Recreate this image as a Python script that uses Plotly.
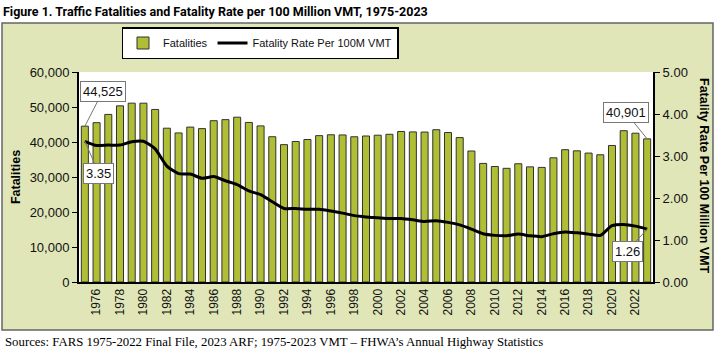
import plotly.graph_objects as go

years = list(range(1975, 2024))
fatalities = [44525, 45523, 47878, 50331, 51093, 51091, 49301, 43945, 42589, 44257,
              43825, 46087, 46390, 47087, 45582, 44599, 41508, 39250, 40150, 40716,
              41817, 42065, 42013, 41501, 41717, 41945, 42196, 43005, 42884, 42836,
              43510, 42708, 41259, 37423, 33883, 32999, 32479, 33782, 32893, 32744,
              35484, 37806, 37473, 36835, 36355, 39007, 43230, 42514, 40901]
rate = [3.35, 3.25, 3.26, 3.26, 3.34, 3.35, 3.17, 2.76, 2.58, 2.57,
        2.47, 2.51, 2.41, 2.32, 2.17, 2.08, 1.91, 1.75, 1.75, 1.73,
        1.73, 1.69, 1.64, 1.58, 1.55, 1.53, 1.51, 1.51, 1.48, 1.44,
        1.46, 1.42, 1.36, 1.26, 1.15, 1.11, 1.10, 1.14, 1.10, 1.08,
        1.15, 1.19, 1.17, 1.14, 1.11, 1.34, 1.37, 1.33, 1.26]
x_ticks = list(range(1976, 2023, 2))
left_ticks = [0, 10000, 20000, 30000, 40000, 50000, 60000]
right_ticks = [0, 1, 2, 3, 4, 5]

ARIAL = "Liberation Sans, Arial, sans-serif"
TITLEF = "Roboto, Liberation Sans, Arial, sans-serif"
SERIF = "Liberation Serif, Times New Roman, serif"

W, H = 721, 355
L, R, T, B = 79, 68, 72, 73
pw, ph = W - L - R, H - T - B

def px(x):
    return (x - L) / pw

def py(y):
    return (H - B - y) / ph

fig = go.Figure()
fig.add_trace(go.Bar(
    x=years, y=fatalities, name="Fatalities",
    marker=dict(color="#AFBE35", line=dict(color="#333333", width=1)),
    yaxis="y",
))
fig.add_trace(go.Scatter(
    x=years, y=rate, name="Fatality Rate Per 100M VMT", mode="lines",
    line=dict(color="black", width=3, shape="spline", smoothing=0.6),
    yaxis="y2",
))

fig.update_layout(
    width=W, height=H,
    margin=dict(l=L, r=R, t=T, b=B, autoexpand=False),
    paper_bgcolor="white", plot_bgcolor="white",
    bargap=0.4,
    showlegend=True,
    legend=dict(orientation="h", xref="container", yref="container",
                x=260 / W, y=1 - 43 / H, xanchor="center", yanchor="middle",
                bgcolor="white", bordercolor="black", borderwidth=1.5,
                itemwidth=30, tracegroupgap=0,
                font=dict(family=ARIAL, size=11, color="#111")),
    title=dict(text="<b>Figure 1. Traffic Fatalities and Fatality Rate per 100 Million VMT, 1975-2023</b>",
               xref="container", yref="container", x=3 / W, y=1 - 12 / H,
               xanchor="left", yanchor="middle",
               font=dict(family=TITLEF, size=12.5, color="black")),
    xaxis=dict(range=[1974.5, 2023.5], tickvals=x_ticks, tickangle=-90,
               tickfont=dict(family=ARIAL, size=12, color="#111"),
               showgrid=False, zeroline=False, showline=True,
               linecolor="black", linewidth=2, ticks=""),
    yaxis=dict(range=[0, 60000], tickvals=left_ticks, tickformat=",",
               tickfont=dict(family=ARIAL, size=13, color="#111"),
               showgrid=False, zeroline=False, showline=True,
               linecolor="black", linewidth=2, ticks="outside", ticklen=5,
               tickcolor="black",
               title=dict(text="<b>Fatalities</b>", standoff=6,
                          font=dict(family=ARIAL, size=12.5, color="black"))),
    yaxis2=dict(range=[0, 5], tickvals=right_ticks, tickformat=".2f",
                overlaying="y", side="right",
                tickfont=dict(family=ARIAL, size=13, color="#111"),
                showgrid=False, zeroline=False, showline=True,
                linecolor="black", linewidth=2, ticks="outside", ticklen=5,
                tickcolor="black"),
)

fig.add_shape(type="rect", xref="paper", yref="paper",
              x0=px(2), x1=px(713), y0=py(330), y1=py(23),
              fillcolor="#E0E6B8", line=dict(color="#666666", width=1.5),
              layer="below")
fig.add_shape(type="rect", xref="paper", yref="paper",
              x0=0, x1=1, y0=0, y1=1,
              fillcolor="white", line=dict(width=0), layer="below")

ann_font = dict(family=ARIAL, size=13, color="#111")
callouts = [
    (years[0], fatalities[0], "y", f"{fatalities[0]:,}", 18, -35),
    (years[0], rate[0], "y2", f"{rate[0]:.2f}", 14, 32),
    (years[-1], fatalities[-1], "y", f"{fatalities[-1]:,}", -21, -26),
    (years[-1], rate[-1], "y2", f"{rate[-1]:.2f}", -20, 22),
]
for xv, yv, yr, txt, ax, ay in callouts:
    fig.add_annotation(x=xv, y=yv, xref="x", yref=yr, text=txt,
                       showarrow=True, arrowhead=0, arrowwidth=1, arrowcolor="#777777",
                       ax=ax, ay=ay, bgcolor="white", bordercolor="#777777",
                       borderwidth=1, borderpad=2, font=ann_font)

fig.add_annotation(xref="paper", yref="paper", x=px(704), y=py(176),
                   text="<b>Fatality Rate Per 100 Million VMT</b>", textangle=90,
                   showarrow=False, xanchor="center", yanchor="middle",
                   font=dict(family=ARIAL, size=12.5, color="black"))
fig.add_annotation(xref="paper", yref="paper", x=px(3), y=py(342),
                   text="Sources: FARS 1975-2022 Final File, 2023 ARF; 1975-2023 VMT \u2013 FHWA\u2019s Annual Highway Statistics",
                   showarrow=False, xanchor="left", yanchor="middle",
                   font=dict(family=SERIF, size=12.8, color="black"))

fig.write_html("out.html", config={"displayModeBar": False},
               post_script="document.body.style.margin='0px';")
